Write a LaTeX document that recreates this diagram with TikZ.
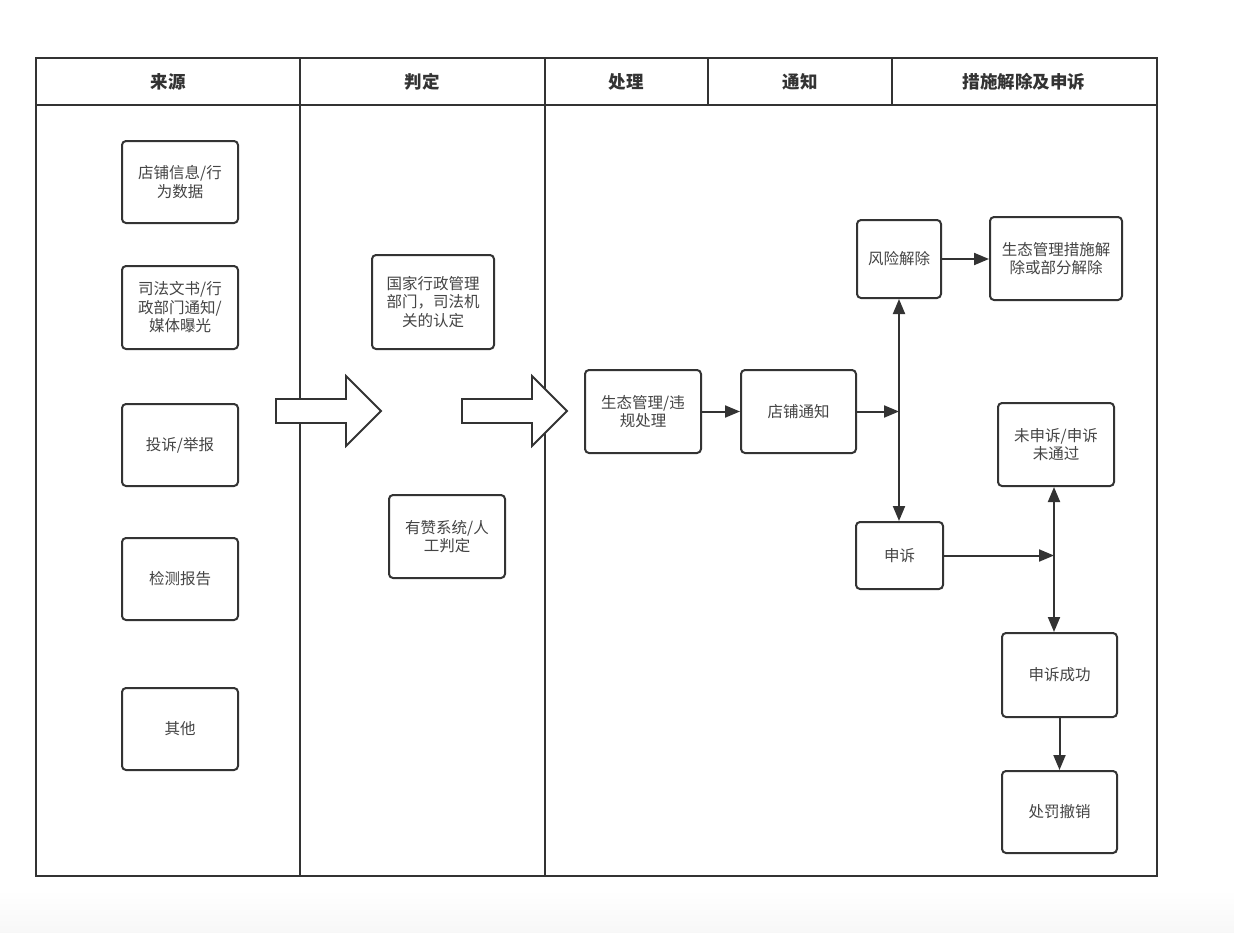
\documentclass[tikz,border=0pt]{standalone}
\usepackage{fontspec}
\setmainfont{Noto Sans CJK SC}
\usetikzlibrary{arrows.meta}
\definecolor{ln}{HTML}{333333}
\definecolor{tx}{HTML}{444444}
\begin{document}
\begin{tikzpicture}[x=1pt,y=-1pt,
  box/.style={draw=ln, line width=2pt, rounded corners=4pt, fill=white, align=center, text=tx,
    font=\fontsize{15.5}{18.5}\selectfont, inner sep=2pt},
  head/.style={font=\bfseries\fontsize{17.5}{20}\selectfont, text=ln},
  conn/.style={draw=ln, line width=2pt, -{Triangle[length=15pt,width=12pt]}},
  frameline/.style={draw=ln, line width=2pt},
  blockarrow/.style={draw=ln, line width=1.8pt, fill=white, line join=miter},
]
\useasboundingbox (0,0) rectangle (1234,932);
\shade[top color=white, bottom color=black!3] (0,890) rectangle (1234,932);

% frame
\draw[frameline] (36,58) rectangle (1157,876);
\draw[frameline] (36,105) -- (1157,105);
\draw[frameline] (300,58) -- (300,876);
\draw[frameline] (545,58) -- (545,876);
\draw[frameline] (708,58) -- (708,105);
\draw[frameline] (892,58) -- (892,105);

% headers
\node[head] (h1) at (168,82) {来源};
\node[head] (h2) at (422,82) {判定};
\node[head] (h3) at (626,82) {处理};
\node[head] (h4) at (800,82) {通知};
\node[head] (h5) at (1024,82) {措施解除及申诉};

% source column
\node[box, minimum width=116pt, minimum height=82pt] (src1) at (180,182) {店铺信息/行\\为数据};
\node[box, minimum width=116pt, minimum height=83pt] (src2) at (180,307.5) {司法文书/行\\政部门通知/\\媒体曝光};
\node[box, minimum width=116pt, minimum height=82pt] (src3) at (180,445) {投诉/举报};
\node[box, minimum width=116pt, minimum height=82pt] (src4) at (180,579) {检测报告};
\node[box, minimum width=116pt, minimum height=82pt] (src5) at (180,729) {其他};

% judgement column
\node[box, minimum width=122pt, minimum height=94pt] (jd1) at (433,302) {国家行政管理\\部门，司法机\\关的认定};
\node[box, minimum width=116pt, minimum height=83pt] (jd2) at (447,536.5) {有赞系统/人\\工判定};

% block arrows
\draw[blockarrow] (276,399) -- (346,399) -- (346,376) -- (381,411) -- (346,446) -- (346,423) -- (276,423) -- cycle;
\draw[blockarrow] (462,399) -- (532,399) -- (532,376) -- (567,411) -- (532,446) -- (532,423) -- (462,423) -- cycle;

% process
\node[box, minimum width=116pt, minimum height=83pt] (p1) at (643,411.5) {生态管理/违\\规处理};
\node[box, minimum width=115pt, minimum height=83pt] (p2) at (798.5,411.5) {店铺通知};
\node[box, minimum width=84pt, minimum height=78pt] (r1) at (899,259) {风险解除};
\node[box, minimum width=132pt, minimum height=83pt] (r2) at (1056,258.5) {生态管理措施解\\除或部分解除};
\node[box, minimum width=116pt, minimum height=83pt] (u1) at (1056,444.5) {未申诉/申诉\\未通过};
\node[box, minimum width=87pt, minimum height=67pt] (a1) at (899.5,555.5) {申诉};
\node[box, minimum width=115pt, minimum height=84pt] (s2) at (1059.5,675) {申诉成功};
\node[box, minimum width=115pt, minimum height=82pt] (s3) at (1059.5,812) {处罚撤销};

\coordinate (j1) at (899,411.5);
\coordinate (j2) at (1054,555.5);

\draw[conn] (p1.east) -- (p2.west);
\draw[conn] (p2.east) -- (j1);
\draw[conn] (j1) -- (j1 |- r1.south);
\draw[conn] (j1) -- (j1 |- a1.north);
\draw[conn] (r1.east) -- (r1.east -| r2.west);
\draw[conn] (a1.east) -- (j2);
\draw[conn] (j2) -- (j2 |- u1.south);
\draw[conn] (j2) -- (j2 |- s2.north);
\draw[conn] (s2.south) -- (s3.north);
\end{tikzpicture}
\end{document}
